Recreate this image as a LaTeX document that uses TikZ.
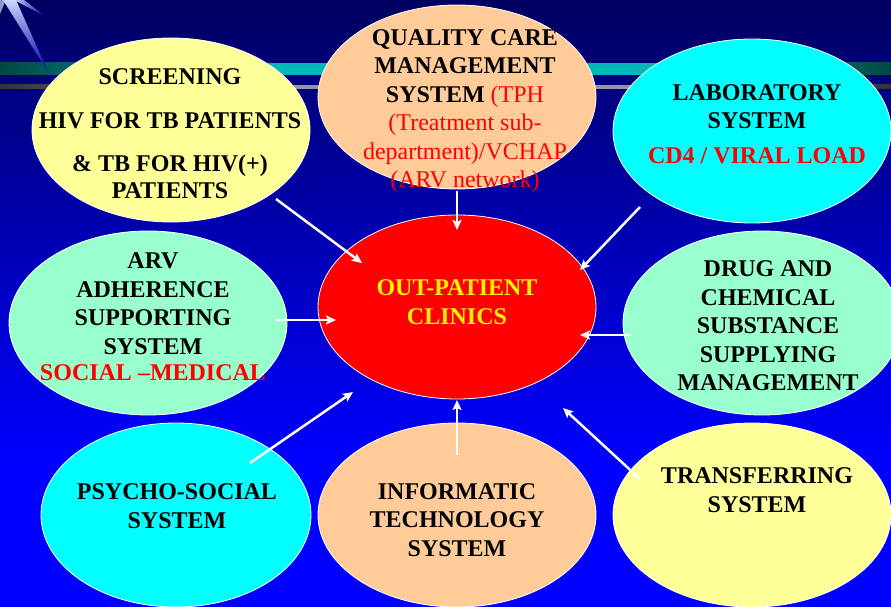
\documentclass[tikz,border=0pt]{standalone}
\usepackage{fontspec}
\setmainfont{Liberation Serif}
\usepackage{tikz}
\usetikzlibrary{shapes.geometric,arrows.meta}

\definecolor{navy}{RGB}{0,0,96}
\definecolor{midblue}{RGB}{0,0,190}
\definecolor{deepblue}{RGB}{0,0,255}
\definecolor{lemon}{RGB}{255,255,153}
\definecolor{peach}{RGB}{255,204,153}
\definecolor{aqua}{RGB}{0,255,255}
\definecolor{mint}{RGB}{153,255,204}
\definecolor{darkteal}{RGB}{0,72,66}
\definecolor{lightteal}{RGB}{0,184,184}
\definecolor{darkgrey}{RGB}{50,50,60}
\definecolor{lightgrey}{RGB}{150,150,160}
\definecolor{glow}{RGB}{200,215,250}

\newcommand{\redpart}[1]{\textcolor{red}{\mdseries #1}}

\tikzset{
  bubble/.style={ellipse, draw=white, line width=0.8pt, minimum width=278pt,
    minimum height=184pt, inner sep=0pt},
  txt/.style={align=center, font=\fontsize{24}{28.5}\selectfont\bfseries},
  feed/.style={draw=white, line width=2.5pt, -{Stealth[length=10pt,width=9pt,inset=2pt]}}
}

\begin{document}
\begin{tikzpicture}[x=1pt,y=-1pt]
\useasboundingbox (0,0) rectangle (891,607);
% background
\fill[top color=navy, middle color=midblue, bottom color=deepblue] (0,0) rectangle (891,460);
\fill[deepblue] (0,459) rectangle (891,607);
% stripes
\fill[left color=darkteal, right color=lightteal] (0,63) rectangle (260,75);
\fill[lightteal] (259,63) rectangle (661,75);
\fill[left color=lightteal, right color=darkteal] (660,63) rectangle (891,75);
\fill[left color=darkgrey, right color=lightgrey] (0,85) rectangle (260,89);
\fill[lightgrey] (259,85) rectangle (661,89);
\fill[left color=lightgrey, right color=darkgrey] (660,85) rectangle (891,89);
\shade[top color=glow, bottom color=navy!50!blue] (3,0) -- (48,72) -- (16,0) -- cycle;
\shade[left color=glow, right color=navy!50!blue] (14,0) -- (45,16) -- (24,0) -- cycle;
\fill[glow, opacity=0.7] (0,0) -- (6,0) -- (0,14) -- cycle;

% bubbles
\node[bubble, fill=lemon] (scr) at (171,130) {};
\node[bubble, fill=peach] (qua) at (457,97) {};
\node[bubble, fill=aqua] (lab) at (752,131) {};
\node[bubble, fill=mint] (arv) at (148,323) {};
\node[bubble, fill=red] (out) at (457,307) {};
\node[bubble, fill=mint] (drug) at (762,323) {};
\node[bubble, fill=aqua, minimum width=270pt] (psy) at (176,515) {};
\node[bubble, fill=peach] (inf) at (457,515) {};
\node[bubble, fill=lemon] (tra) at (752,515) {};

% texts
\node[txt] (scr-t) at (170,134) {SCREENING\\[15.5pt]HIV FOR TB PATIENTS\\[14.5pt]\& TB FOR HIV(+)\\[-1.5pt]PATIENTS};
\node[txt] (qua-t) at (465,111) {QUALITY CARE\\MANAGEMENT\\SYSTEM \redpart{(TPH}\\\redpart{(Treatment sub-}\\\redpart{department)/VCHAP}\\\redpart{(ARV network)}};
\node[txt] (lab-t) at (757,124) {LABORATORY\\SYSTEM\\[6pt]\textcolor{red}{CD4 / VIRAL LOAD}};
\node[txt, text=yellow] (out-t) at (457,302) {OUT-PATIENT\\CLINICS};
\node[txt] (arv-t) at (153,317) {ARV\\ADHERENCE\\SUPPORTING\\SYSTEM\\[-2pt]\textcolor{red}{SOCIAL –MEDICAL}};
\node[txt] (drug-t) at (768,326) {DRUG AND\\CHEMICAL\\SUBSTANCE\\SUPPLYING\\MANAGEMENT};
\node[txt] (psy-t) at (177,506) {PSYCHO-SOCIAL\\SYSTEM};
\node[txt] (inf-t) at (457,520) {INFORMATIC\\TECHNOLOGY\\SYSTEM};
\node[txt] (tra-t) at (757,490) {TRANSFERRING\\SYSTEM};

% arrows into the clinics
\foreach \from/\fx/\fy/\tx/\ty in
{scr/105/69/-95/-44, qua/0/94/0/-77, lab/-112/76/123/-37, arv/128/-3/-121/13,
 drug/-131/12/123/28, psy/74/-52/-104/85, inf/0/-60/0/93, tra/-112/-36/106/101}
\draw[feed] ([shift={(\fx,\fy)}]\from.center) -- ([shift={(\tx,\ty)}]out.center);
\end{tikzpicture}
\end{document}
